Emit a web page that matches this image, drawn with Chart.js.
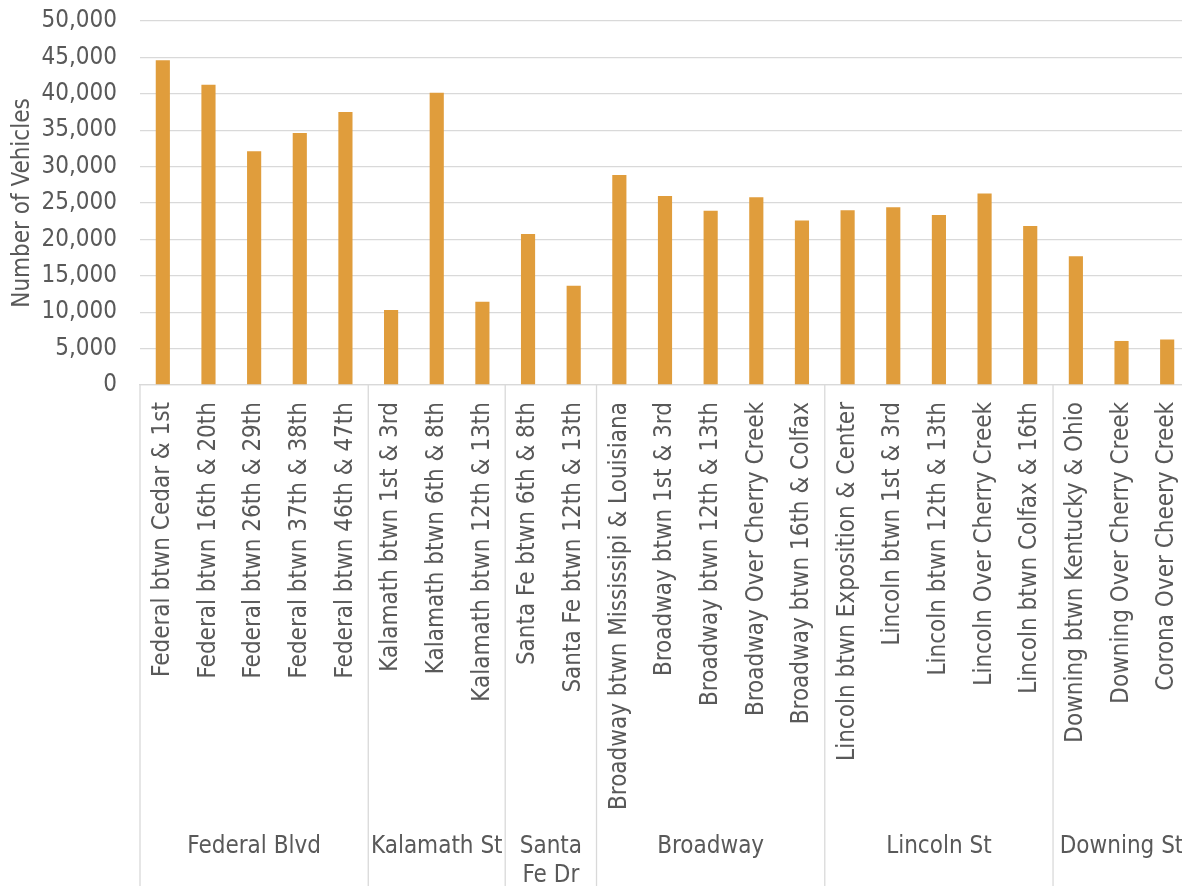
<!DOCTYPE html>
<html>
<head>
<meta charset="utf-8">
<title>Number of Vehicles</title>
<script src="https://cdn.jsdelivr.net/npm/chart.js@4.4.1/dist/chart.umd.min.js"></script>
<style>
  html, body { margin: 0; padding: 0; background: #fff; overflow: hidden; }
  canvas { display: block; }
</style>
</head>
<body>
<canvas id="chart" width="1190" height="886"></canvas>
<script>
// data
const categories = [
  'Federal btwn Cedar & 1st', 'Federal btwn 16th & 20th', 'Federal btwn 26th & 29th',
  'Federal btwn 37th & 38th', 'Federal btwn 46th & 47th',
  'Kalamath btwn 1st & 3rd', 'Kalamath btwn 6th & 8th', 'Kalamath btwn 12th & 13th',
  'Santa Fe btwn 6th & 8th', 'Santa Fe btwn 12th & 13th',
  'Broadway btwn Mississipi & Louisiana', 'Broadway btwn 1st & 3rd', 'Broadway btwn 12th & 13th',
  'Broadway Over Cherry Creek', 'Broadway btwn 16th & Colfax',
  'Lincoln btwn Exposition & Center', 'Lincoln btwn 1st & 3rd', 'Lincoln btwn 12th & 13th',
  'Lincoln Over Cherry Creek', 'Lincoln btwn Colfax & 16th',
  'Downing btwn Kentucky & Ohio', 'Downing Over Cherry Creek', 'Corona Over Cheery Creek'
];
const vehicles = [
  44600, 41250, 32100, 34600, 37500,
  10300, 40150, 11450,
  20750, 13650,
  28850, 25950, 23950, 25800, 22600,
  24000, 24400, 23350, 26300, 21850,
  17700, 6050, 6250
];
const groupNames = ['Federal Blvd', 'Kalamath St', ['Santa', 'Fe Dr'], 'Broadway', 'Lincoln St', 'Downing St'];
const groupSizes = [5, 3, 2, 5, 5, 3];
const yMin = 0, yMax = 50000, yStep = 5000;

const FONT = "'DejaVu Sans Condensed', 'DejaVu Sans', sans-serif";
const TEXT = '#595959';
const GRID = '#D9D9D9';

// draws the street group labels and the separators under the category labels
const groupAxis = {
  id: 'groupAxis',
  afterDraw(chart){
    const x = chart.scales.x;
    const ctx = chart.ctx;
    const half = (x.getPixelForValue(1) - x.getPixelForValue(0)) / 2;
    const top = chart.chartArea.bottom;
    const bottom = chart.height;
    ctx.save();
    ctx.strokeStyle = GRID;
    ctx.lineWidth = 1.3;
    ctx.fillStyle = TEXT;
    ctx.font = '24px ' + FONT;
    ctx.textAlign = 'center';
    ctx.textBaseline = 'middle';
    let start = 0;
    groupSizes.forEach((n, g)=>{
      const left = x.getPixelForValue(start) - half;
      const right = x.getPixelForValue(start + n - 1) + half;
      ctx.beginPath();
      ctx.moveTo(left, top); ctx.lineTo(left, bottom);
      ctx.stroke();
      const lines = [].concat(groupNames[g]);
      lines.forEach((t, k)=>ctx.fillText(t, (left + right) / 2, 847 + k * 29));
      start += n;
    });
    ctx.restore();
  }
};

new Chart(document.getElementById('chart'), {
  type: 'bar',
  data: {
    labels: categories,
    datasets: [{
      label: 'Number of Vehicles',
      data: vehicles,
      backgroundColor: '#E09D3C',
      borderWidth: 0,
      categoryPercentage: 1,
      barPercentage: 0.31
    }]
  },
  options: {
    responsive: false,
    animation: false,
    layout: { padding: { top: 21, left: 0, right: 0, bottom: 0 } },
    plugins: { legend: { display: false }, tooltip: { enabled: false } },
    scales: {
      x: {
        grid: { display: false, drawTicks: false },
        border: { display: true, color: GRID, width: 1.3 },
        ticks: {
          color: TEXT, font: { family: FONT, size: 24 },
          minRotation: 90, maxRotation: 90, autoSkip: false, padding: 17
        },
        afterFit(scale){
          scale.height = 886 - 385;
          scale.paddingLeft = 0;
          scale.paddingRight = 0;
        }
      },
      y: {
        min: yMin, max: yMax,
        grid: { color: GRID, lineWidth: 1.3, drawTicks: false },
        border: { display: false },
        ticks: {
          stepSize: yStep, color: TEXT, padding: 23,
          font: { family: FONT, size: 24 },
          callback: v => v.toLocaleString('en-US')
        },
        title: {
          display: true, text: 'Number of Vehicles', color: TEXT,
          font: { family: FONT, size: 24 }, padding: { top: 8, bottom: 0 }
        },
        afterFit(scale){
          scale.width = 140;
          scale.paddingTop = 0;
          scale.paddingBottom = 0;
        }
      }
    }
  },
  plugins: [groupAxis]
});
</script>
</body>
</html>
